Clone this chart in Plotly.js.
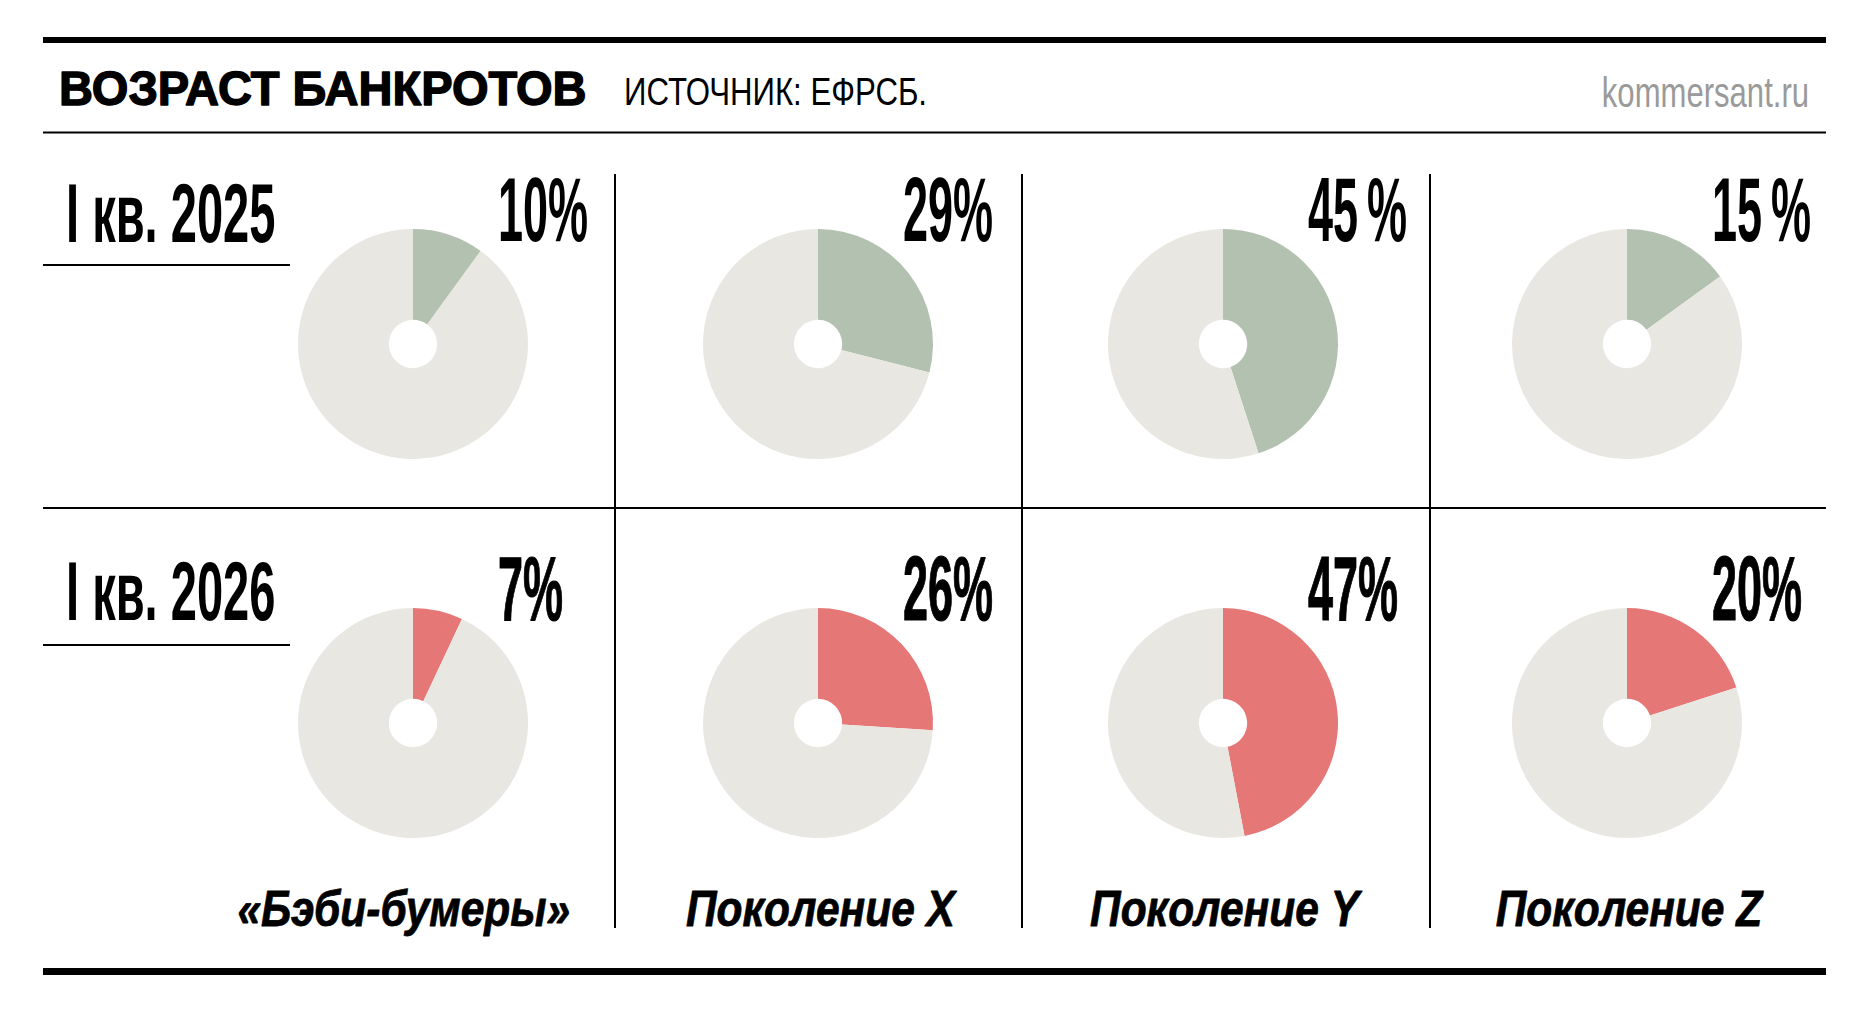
<!DOCTYPE html>
<html>
<head>
<meta charset="utf-8">
<script src="https://cdn.plot.ly/plotly-3.0.1.min.js"></script>
<style>
  html, body { margin: 0; padding: 0; background: #fff; }
  #chart { width: 1866px; height: 1012px; }
</style>
</head>
<body>
<div id="chart"></div>
<script>
// доли банкротов по поколениям, ЕФРСБ
var generations = ['«Бэби-бумеры»', 'Поколение X', 'Поколение Y', 'Поколение Z'];
var periods = ['I кв. 2025', 'I кв. 2026'];
var share2025 = [10, 29, 45, 15];
var share2026 = [7, 26, 47, 20];
var shareLabels2025 = ['10%', '29%', '45\u2009%', '15\u2009%'];
var shareLabels2026 = ['7%', '26%', '47%', '20%'];

var W = 1866, H = 1012;
var pieX = [413, 818, 1223, 1627];
var pieY = [344, 723];
var pieR = 115;
var rowBase = [242, 620];
var genShift = [-9, 3, 3, 3];

var FONT = '"Liberation Sans", Arial, sans-serif';
var grey = '#e9e7e1';
var rowColors = ['#b3c1b0', '#e67777'];
var rowShares = [share2025, share2026];
var rowLabels = [shareLabels2025, shareLabels2026];

function px(x) { return x / W; }
function py(y) { return 1 - y / H; }

var data = [];
rowShares.forEach(function (shares, row) {
  shares.forEach(function (v, col) {
    data.push({
      type: 'pie',
      values: [v, 100 - v],
      sort: false,
      direction: 'clockwise',
      rotation: 0,
      hole: 0.21,
      textinfo: 'none',
      hoverinfo: 'none',
      showlegend: false,
      marker: { colors: [rowColors[row], grey], line: { width: 0 } },
      domain: {
        x: [px(pieX[col] - pieR), px(pieX[col] + pieR)],
        y: [py(pieY[row] + pieR), py(pieY[row] - pieR)]
      }
    });
  });
});

// text: annotations + horizontal squeeze (fonts are not condensed enough)
var annotations = [];
var squeeze = [];
function addText(text, x, baseline, anchor, font, k, heavy) {
  annotations.push({
    xref: 'paper', yref: 'paper',
    x: px(x), y: py(baseline - 0.35 * font.size),
    xanchor: anchor, yanchor: 'middle',
    text: text, showarrow: false, font: font
  });
  squeeze.push([k, anchor, heavy || 0]);
}

var fTitle = { family: FONT, size: 48, color: '#000', weight: 'bold' };
var fSource = { family: FONT, size: 39, color: '#000' };
var fSite = { family: FONT, size: 42, color: '#9a9a9a' };
var fPeriod = { family: FONT, size: 84, color: '#000', weight: 'bold' };
var fShare = { family: FONT, size: 90, color: '#000', weight: 'bold' };
var fGen = { family: FONT, size: 50, color: '#000', weight: 'bold', style: 'italic' };

addText('ВОЗРАСТ БАНКРОТОВ', 57, 105, 'left', fTitle, 0.98, 1.4);
addText('ИСТОЧНИК: ЕФРСБ.', 622, 105, 'left', fSource, 0.8);
addText('kommersant.ru', 1811, 107, 'right', fSite, 0.74);

periods.forEach(function (p, row) {
  addText(p, 64, rowBase[row], 'left', fPeriod, 0.56);
  rowLabels[row].forEach(function (lab, col) {
    addText(lab, pieX[col] + 83, rowBase[row], 'left', fShare, 0.5, row ? 1.2 : 0);
  });
});
generations.forEach(function (g, col) {
  addText(g, pieX[col] + genShift[col], 926, 'center', fGen, 0.85, 0.8);
});

var shapes = [];
function line(x0, y0, x1, y1, w) {
  shapes.push({
    type: 'line', xref: 'paper', yref: 'paper',
    x0: px(x0), y0: py(y0), x1: px(x1), y1: py(y1),
    line: { color: '#000', width: w }
  });
}
line(43, 40, 1826, 40, 6);
line(43, 132.5, 1826, 132.5, 2);
line(43, 508, 1826, 508, 2);
line(43, 265, 290, 265, 2);
line(43, 645, 290, 645, 2);
[615, 1022, 1430].forEach(function (x) { line(x, 174, x, 928, 2); });
line(43, 971.5, 1826, 971.5, 7);

var layout = {
  width: W,
  height: H,
  margin: { t: 0, b: 0, l: 0, r: 0 },
  paper_bgcolor: '#fff',
  showlegend: false,
  annotations: annotations,
  shapes: shapes
};

var config = { displayModeBar: false, staticPlot: true };

Plotly.newPlot('chart', data, layout, config).then(function (gd) {
  gd.querySelectorAll('.annotation').forEach(function (g) {
    var s = squeeze[+g.getAttribute('data-index')];
    var t = g.querySelector('text');
    if (!s || !t) return;
    t.style.transformBox = 'fill-box';
    t.style.transformOrigin = s[1] + ' center';
    t.style.transform = 'scaleX(' + s[0] + ')';
    if (s[2]) {
      t.style.stroke = t.style.fill || '#000';
      t.style.strokeWidth = s[2] + 'px';
      t.style.strokeLinejoin = 'round';
    }
  });
});
</script>
</body>
</html>
